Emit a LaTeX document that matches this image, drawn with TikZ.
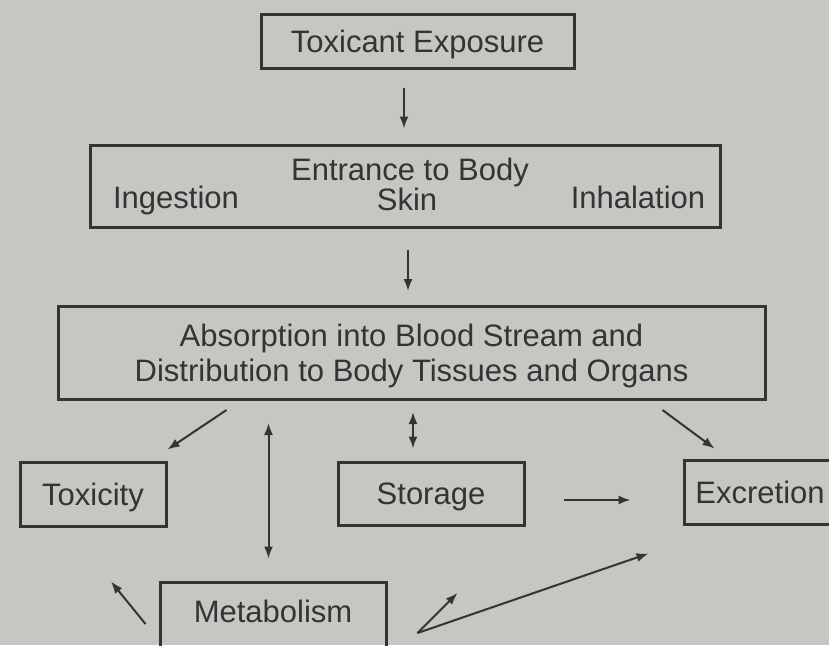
\documentclass[tikz,border=0pt]{standalone}
\usepackage{fontspec}
\setmainfont{Liberation Sans}
\usepackage{tikz}
\usetikzlibrary{arrows.meta,positioning,calc}
\usepackage{xcolor}
\definecolor{bggray}{RGB}{198,198,195}
\definecolor{inkgray}{RGB}{52,52,52}
\tikzset{
  stagebox/.style={draw=inkgray,line width=1.5pt,inner sep=0pt,align=center,
    text=inkgray,font=\fontsize{15.5}{17.5}\selectfont,text height=11.2pt,text depth=0pt},
  plainlabel/.style={text=inkgray,font=\fontsize{15.5}{17.5}\selectfont,inner sep=0pt,anchor=base},
  flow/.style={-{Latex[length=6pt,width=4.5pt]},line width=1pt,draw=inkgray},
  twoway/.style={{Latex[length=6pt,width=4.5pt]}-{Latex[length=6pt,width=4.5pt]},line width=1pt,draw=inkgray}
}
\begin{document}
\begin{tikzpicture}[x=0.5pt,y=-0.5pt]
  \useasboundingbox (0,0) rectangle (829,645);
  \fill[bggray] (0,0) rectangle (829,645);
  % boxes
  \node[stagebox,minimum width=156.5pt,minimum height=27pt] (expo) at (417.5,41) {Toxicant Exposure};
  \node[stagebox,minimum width=315pt,minimum height=41pt] (entry) at (405,186) {};
  \node[plainlabel] (entrytitle) at (410,180) {Entrance to Body};
  \node[plainlabel] (skin) at (407,210) {Skin};
  \node[plainlabel] (ingest) at (176,208) {Ingestion};
  \node[plainlabel] (inhale) at (638,208) {Inhalation};
  \node[stagebox,minimum width=353.5pt,minimum height=46.5pt,text height=28.7pt,text depth=0pt] (absorb) at (411.5,353)
    {Absorption into Blood Stream and\\Distribution to Body Tissues and Organs};
  \node[stagebox,minimum width=73pt,minimum height=32pt] (tox) at (93,494) {Toxicity};
  \node[stagebox,minimum width=93pt,minimum height=31.5pt] (store) at (431,493.5) {Storage};
  \node[stagebox,minimum width=76pt,minimum height=32pt] (excr) at (760,492) {Excretion};
  \node[stagebox,minimum width=113pt,minimum height=34pt,text depth=5.2pt] (metab) at (273,616) {Metabolism};
  % connectors
  \coordinate (fork) at ($(metab.east)+(30,17)$);
  \draw[flow] ($(expo.south)+(-13.5,18)$) -- ($(entry.north)+(-1,-15)$);
  \draw[flow] ($(entry.south)+(3,21)$) -- ($(absorb.north)+(-3.5,-14)$);
  \draw[flow] ($(absorb.south west)+(170,9)$) -- ($(tox.north east)+(0,-11)$);
  \draw[twoway] ($(absorb.south west)+(212,22)$) -- ($(metab.north west)+(110,-22)$);
  \draw[twoway] ($(absorb.south)+(1.5,11)$) -- ($(store.north)+(-18,-12)$);
  \draw[flow] ($(absorb.south east)+(-104,9)$) -- ($(excr.north west)+(32,-10)$);
  \draw[flow] ($(store.east)+(38,6.5)$) -- ($(excr.west)+(-52,8)$);
  \draw[flow] ($(metab.west)+(-13,8)$) -- ($(tox.south)+(18,54)$);
  \draw[flow] (fork) -- ($(metab.east)+(70,-23)$);
  \draw[flow] (fork) -- ($(excr.south west)+(-34,28)$);
\end{tikzpicture}
\end{document}
